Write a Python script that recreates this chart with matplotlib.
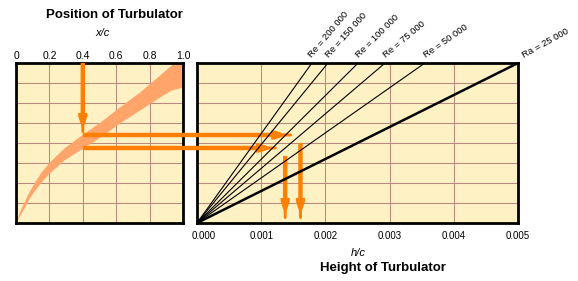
import matplotlib
matplotlib.use("Agg")
import matplotlib.pyplot as plt
from matplotlib.patches import Polygon
from matplotlib.transforms import IdentityTransform, ScaledTranslation
import numpy as np

plt.rcParams['font.family'] = ['Liberation Sans', 'DejaVu Sans']

# turbulator position band (x/c vs. vertical scale 0..8)
band_x = [0.0, 0.02, 0.048, 0.08, 0.108, 0.15, 0.2, 0.287, 0.40, 0.503, 0.62, 0.74, 0.86, 0.93, 1.0]
band_upper = [0.0, 0.55, 1.05, 1.6, 2.0, 2.55, 3.05, 3.75, 4.45, 5.05, 5.8, 6.55, 7.4, 7.9, 8.3]
band_lower = [0.0, 0.35, 0.75, 1.25, 1.6, 2.05, 2.5, 3.15, 3.75, 4.3, 5.0, 5.65, 6.3, 6.65, 6.8]

# Reynolds lines: h/c where each line reaches the top of the chart
re_labels = ['Re = 200 000', 'Re = 150 000', 'Re = 100 000',
             'Re = 75 000', 'Re = 50 000', 'Ra = 25 000']
re_top_hc = [0.00179, 0.00204, 0.00251, 0.00293, 0.00355, 0.005]
re_rot = [50, 48, 45, 40, 35, 29]

xc_ticks = [0, 0.2, 0.4, 0.6, 0.8, 1.0]
xc_labels = ['0', '0.2', '0.4', '0.6', '0.8', '1.0']
hc_ticks = [0, 0.001, 0.002, 0.003, 0.004, 0.005]
hc_labels = ['0.000', '0.001', '0.002', '0.003', '0.004', '0.005']

# example read-off
ex_xc = 0.4
ex_y = [4.4, 3.75]          # upper / lower edge of band at x/c = 0.4
ex_re = 3                   # Re = 75 000 line
ymax = 8

bg = '#FEF1C3'
gridc = '#BA8A80'
bandc = '#FFA56B'
arrowc = '#FF8000'

fig = plt.figure(figsize=(5.78, 2.81), dpi=100)
W, H = 578.0, 281.0
ax1 = fig.add_axes([16 / W, 1 - 223 / H, 167 / W, 160 / H])
ax2 = fig.add_axes([197 / W, 1 - 223 / H, 321 / W, 160 / H])

for ax in (ax1, ax2):
    ax.set_facecolor(bg)
    ax.set_ylim(0, ymax)
    ax.set_yticks(range(1, ymax))
    ax.tick_params(axis='y', length=0, labelleft=False)
    ax.grid(True, color=gridc, linewidth=0.75)
    ax.set_axisbelow(True)
    for s in ax.spines.values():
        s.set_linewidth(2)
        s.set_color('black')

# left panel
ax1.set_xlim(0, 1)
ax1.xaxis.tick_top()
ax1.set_xticks(xc_ticks, xc_labels)
ax1.tick_params(axis='x', length=0, pad=1.5, labelsize=7.5)
ax1.fill_between(band_x, band_lower, band_upper, color=bandc, linewidth=0, zorder=2)

# right panel
ax2.set_xlim(0, 0.005)
ax2.set_xticks(hc_ticks, hc_labels)
ax2.tick_params(axis='x', length=0, pad=6, labelsize=7)
for i, (hx, lab, rot) in enumerate(zip(re_top_hc, re_labels, re_rot)):
    lw = 1.8 if i == len(re_top_hc) - 1 else 0.8
    ax2.plot([0, hx], [0, ymax], color='black', linewidth=lw, zorder=4, clip_on=False,
             solid_capstyle='butt')
    dx = 5 if i == len(re_top_hc) - 1 else 1.5
    ax2.annotate(lab, xy=(hx, ymax), xytext=(dx, 2.5), textcoords='offset points',
                 rotation=rot, rotation_mode='anchor', ha='left', va='bottom',
                 fontsize=6.8, annotation_clip=False)

# shift first h/c label a bit to the right like the original
lbl0 = ax2.xaxis.get_major_ticks()[0].label1
lbl0.set_transform(lbl0.get_transform() + ScaledTranslation(7 / 100, 0, fig.dpi_scale_trans))


def arrow(p0, p1, head=21):
    """orange arrow between two display points (pixels)"""
    p0 = np.asarray(p0, float)
    p1 = np.asarray(p1, float)
    d = p1 - p0
    L = np.hypot(*d)
    u = d / L
    n = np.array([-u[1], u[0]])
    s0 = L - head
    prof = [(0, 2.2), (s0, 2.2), (s0, 4.6), (s0 + 3, 4.6), (s0 + 10, 2.4),
            (s0 + 12, 1.6), (L - 1, 1.4), (L, 0.5)]
    pts = [p0 + u * s + n * w for s, w in prof]
    pts += [p0 + u * s - n * w for s, w in reversed(prof)]
    poly = Polygon(pts, closed=True, facecolor=arrowc, edgecolor='none',
                   transform=IdentityTransform(), clip_on=False, zorder=3)
    ax2.add_patch(poly)


t1 = ax1.transData.transform
t2 = ax2.transData.transform
slope = re_top_hc[ex_re] / ymax
# down from the top to the band
arrow(t1((ex_xc, ymax)), t1((ex_xc, ex_y[0] + 0.1)), head=20)
# across to the Re line, then down to the h/c axis
for y in ex_y:
    hx = slope * y
    arrow(t1((ex_xc, y)), t2((hx - 0.00013, y)))
    arrow(t2((hx, y - 0.4)), t2((hx, 0.2)))
ax2.set_xlim(0, 0.005)
ax2.set_ylim(0, ymax)

fig.text(114 / W, 1 - 15 / H, 'Position of Turbulator', ha='center', va='center',
         fontsize=9.5, fontweight='bold')
fig.text(103 / W, 1 - 33 / H, 'x/c', ha='center', va='center', fontsize=8, style='italic')
fig.text(358 / W, 1 - 253 / H, 'h/c', ha='center', va='center', fontsize=8, style='italic')
fig.text(383 / W, 1 - 268 / H, 'Height of Turbulator', ha='center', va='center',
         fontsize=9.5, fontweight='bold')

fig.savefig('out.png', dpi=100, facecolor='white')
